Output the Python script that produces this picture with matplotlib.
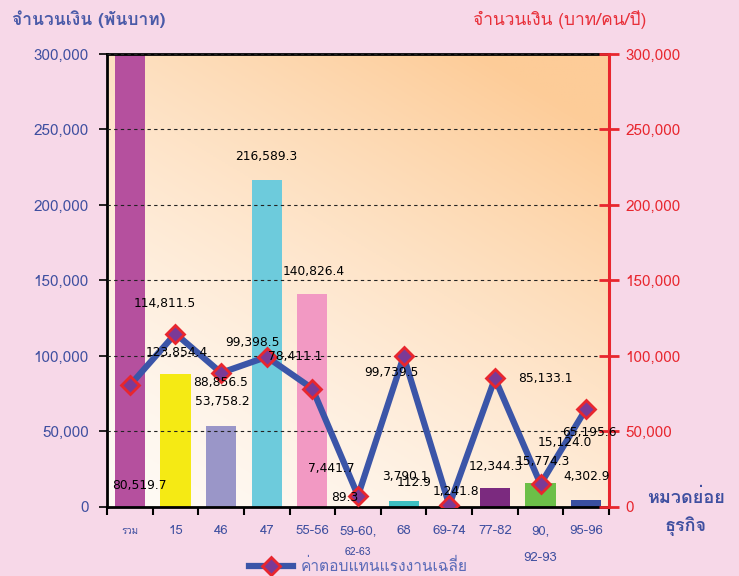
import numpy as np
import matplotlib
matplotlib.use("Agg")
import matplotlib.pyplot as plt
from matplotlib import font_manager
from matplotlib.ft2font import FT2Font
from matplotlib.lines import Line2D

categories = ["รวม", "15", "46", "47", "55-56", "59-60,", "68", "69-74", "77-82", "90,", "95-96"]
sub_labels = ["", "", "", "", "", "62-63", "", "", "", "92-93", ""]
bar_values = [571442.1, 87800, 53758.2, 216589.3, 140826.4, 89.3, 3790.1, 112.9, 12344.3, 15774.3, 4302.9]
line_values = [80519.7, 114811.5, 88856.5, 99398.5, 78411.1, 7441.7, 99739.5, 1241.8, 85133.1, 15124.0, 65195.6]
bar_colors = ["#B5509E", "#F5EA14", "#9A96C8", "#6DCBDC", "#F299C3", "#E07070",
              "#3EBFC2", "#C0C0C0", "#7B2A7F", "#6CBF48", "#3A4FA0"]

# data label texts as they appear on the picture
label_texts = ["80,519.7", "114,811.5", "216,589.3", "140,826.4", "123,854.4", "99,398.5",
               "78,411.1", "88,856.5", "53,758.2", "7,441.7", "89.3", "99,739.5", "3,790.1",
               "112.9", "1,241.8", "12,344.3", "85,133.1", "15,774.3", "15,124.0", "65,195.6",
               "4,302.9"]
label_pos = [(0.22, 14000), (0.77, 134800), (3.0, 232400), (4.02, 156000), (1.04, 102300),
             (2.68, 108900), (3.62, 99600), (1.98, 82300), (2.02, 69700), (4.41, 25200),
             (4.72, 6600), (5.73, 89000), (6.04, 19900), (6.23, 15900), (7.15, 10000),
             (8.03, 26600), (9.1, 85000), (9.06, 29900), (9.54, 42500), (10.07, 49100),
             (10.0, 19900)]


def thai_font():
    for f in font_manager.fontManager.ttflist:
        try:
            if 0x0E08 in FT2Font(f.fname).get_charmap():
                return f.name
        except Exception:
            pass
    return None


tf = thai_font()
fams = ([tf] if tf else []) + ["DejaVu Sans"]
plt.rcParams["font.family"] = fams

BLUE = "#3F4FA0"
RED = "#E8262E"

fig = plt.figure(figsize=(7.39, 5.76), dpi=100)
fig.patch.set_facecolor("#F7D8E8")
ax = fig.add_axes([0.1448, 0.1198, 0.6793, 0.7865])
ax2 = ax.twinx()

x = np.arange(len(categories))
ax.set_xlim(-0.5, len(categories) - 0.5)
ax.set_ylim(0, 300000)
ax2.set_ylim(0, 300000)

# gradient background: orange top-right to white bottom-left
gy, gx = np.mgrid[0:1:200j, 0:1:200j]
t = np.clip((gx * 0.6 + gy * 0.9) / 1.35, 0, 1)
c0 = np.array([255, 250, 245]) / 255
c1 = np.array([253, 204, 152]) / 255
img = c0 + (c1 - c0) * t[..., None] ** 1.4
ax.imshow(img, extent=[-0.5, len(categories) - 0.5, 0, 300000], origin="lower",
          aspect="auto", zorder=0)

ax.bar(x, bar_values, width=0.66, color=bar_colors, zorder=2)
ax.yaxis.grid(True, linestyle=(0, (3, 3)), color="#222222", linewidth=0.8, zorder=1)
ax.set_axisbelow(False)

ax2.plot(x, line_values, color="#3B55A8", linewidth=4.5, marker="D", markersize=9,
         markerfacecolor="#7B3A96", markeredgecolor=RED, markeredgewidth=2, zorder=4)

for txt, (px, py) in zip(label_texts, label_pos):
    ax2.text(px, py, txt, ha="center", va="center", fontsize=8.8, color="black",
             family="DejaVu Sans", zorder=5)

yt = np.arange(0, 300001, 50000)
ax.set_yticks(yt)
ax.set_yticklabels([f"{v:,}" for v in yt], color=BLUE, fontsize=11)
ax2.set_yticks(yt)
ax2.set_yticklabels([f"{v:,}" for v in yt], color=RED, fontsize=11)
ax.tick_params(axis="y", direction="out", length=6, width=1.2, color="black", pad=7)
ax2.tick_params(axis="y", direction="inout", length=14, width=2, color=RED, pad=5)

ax.set_xticks(np.arange(len(categories) + 1) - 0.5, minor=True)
ax.set_xticks([])
ax.tick_params(axis="x", which="minor", direction="out", length=6, width=1.5, color="black")

for i, (c, s) in enumerate(zip(categories, sub_labels)):
    fs = 7 if c == "รวม" else 9.5
    ax.text(i, -16000, c, ha="center", va="center", fontsize=fs, color=BLUE)
    if s:
        dy = -29500 if i == 5 else -33500
        ax.text(i, dy, s, ha="center", va="center", fontsize=7.5 if i == 5 else 9.5, color=BLUE)

for sp in ["left", "bottom", "top"]:
    ax.spines[sp].set_color("black")
    ax.spines[sp].set_linewidth(2)
ax.spines["right"].set_visible(False)
for sp in ["left", "bottom", "top"]:
    ax2.spines[sp].set_visible(False)
ax2.spines["right"].set_color(RED)
ax2.spines["right"].set_linewidth(2.2)

fig.text(0.016, 0.966, "จำนวนเงิน (พันบาท)", color="#4A5AA8", fontsize=12.5,
         fontweight="bold", ha="left", va="center")
fig.text(0.758, 0.966, "จำนวนเงิน (บาท/คน/ปี)", color="#E8303A", fontsize=12.5,
         ha="center", va="center")
fig.text(0.928, 0.135, "หมวดย่อย", color=BLUE, fontsize=13, fontweight="bold",
         ha="center", va="center")
fig.text(0.928, 0.087, "ธุรกิจ", color=BLUE, fontsize=13, fontweight="bold",
         ha="center", va="center")

h = Line2D([], [], color="#3B55A8", linewidth=4.5, marker="D", markersize=9,
           markerfacecolor="#7B3A96", markeredgecolor=RED, markeredgewidth=2)
fig.legend([h], ["ค่าตอบแทนแรงงานเฉลี่ย"], loc="center", bbox_to_anchor=(0.485, 0.017),
           frameon=False, fontsize=11.2, labelcolor="#5A6AB8", handlelength=2.8,
           handletextpad=0.5, borderpad=0)

fig.savefig("out.png", dpi=100, facecolor=fig.get_facecolor())
